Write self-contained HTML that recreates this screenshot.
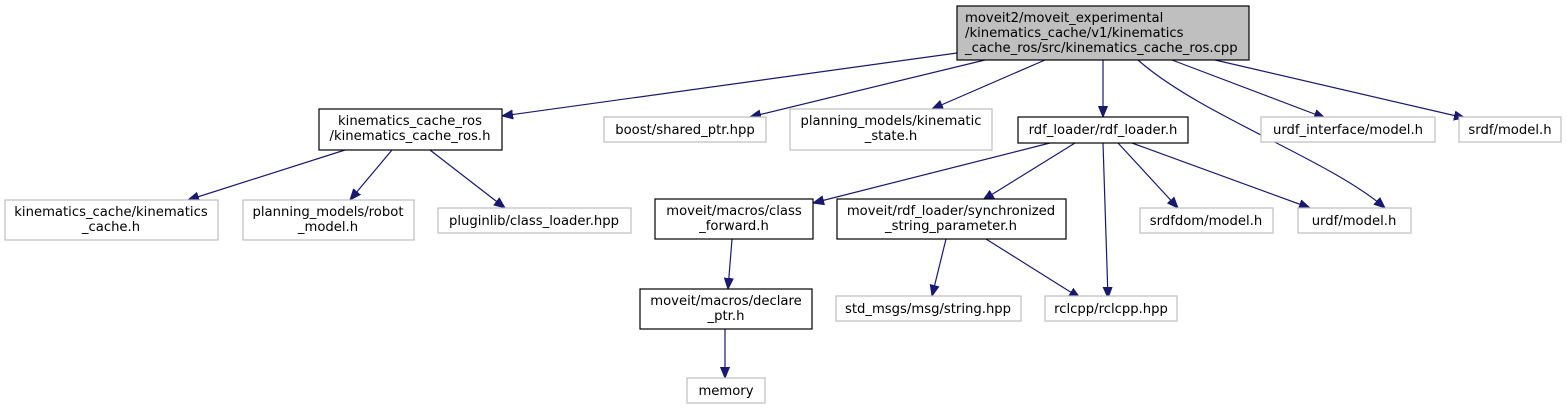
<!DOCTYPE html>
<html><head><meta charset="utf-8"><style>
html,body{margin:0;padding:0;background:#fff;}
svg{display:block;}
text{font-family:"DejaVu Sans","Liberation Sans",sans-serif;font-size:13.2px;fill:#000;text-anchor:middle;}
.b{fill:#fff;stroke:#000;stroke-width:1.2;}
.g{fill:#fff;stroke:#bfbfbf;stroke-width:1.2;}
.e{stroke:#191970;stroke-width:1.2;fill:none;marker-end:url(#a);}
</style></head><body>
<svg width="1567" height="409" viewBox="0 0 1567 409" xmlns="http://www.w3.org/2000/svg">
<defs><marker id="a" markerUnits="userSpaceOnUse" markerWidth="12" markerHeight="10" refX="11" refY="5" orient="auto"><path d="M0,0.5 L11,5 L0,9.5 z" fill="#191970" stroke="#191970"/></marker></defs>
<path class="e" d="M957,53 L502,116"/>
<path class="e" d="M985,60 L750,117"/>
<path class="e" d="M1045,60 L932,109"/>
<path class="e" d="M1103,60 L1103,117"/>
<path class="e" d="M1138,60 C1200,115 1330,160 1385,208"/>
<path class="e" d="M1172,60 L1325,118"/>
<path class="e" d="M1215,60 L1465,118"/>
<path class="e" d="M345,150 L188,200"/>
<path class="e" d="M392,150 L350,200"/>
<path class="e" d="M430,150 L505,208"/>
<path class="e" d="M1050,143 L813,203"/>
<path class="e" d="M1075,143 L983,200"/>
<path class="e" d="M1103,143 L1108,298"/>
<path class="e" d="M1118,143 L1178,208"/>
<path class="e" d="M1132,143 L1310,208"/>
<path class="e" d="M732,239 L728,289"/>
<path class="e" d="M725,328 L725,378"/>
<path class="e" d="M946,239 L932,296"/>
<path class="e" d="M986,239 L1080,298"/>

<rect x="957" y="6" width="292" height="54" fill="#bfbfbf" stroke="#000" stroke-width="1.2"/>
<text x="965" y="22" style="text-anchor:start">moveit2/moveit_experimental</text>
<text x="965" y="37" style="text-anchor:start">/kinematics_cache/v1/kinematics</text>
<text x="965" y="52" style="text-anchor:start">_cache_ros/src/kinematics_cache_ros.cpp</text>

<rect class="b" x="319" y="109" width="183" height="41"/>
<text x="410" y="125">kinematics_cache_ros</text><text x="410" y="140">/kinematics_cache_ros.h</text>

<rect class="g" x="604" y="117" width="162" height="25"/><text x="685" y="134">boost/shared_ptr.hpp</text>

<rect class="g" x="790" y="109" width="202" height="41"/>
<text x="891" y="125">planning_models/kinematic</text><text x="891" y="140">_state.h</text>

<rect class="b" x="1018" y="117" width="170" height="26"/><text x="1103" y="134">rdf_loader/rdf_loader.h</text>

<rect class="g" x="1261" y="117" width="174" height="25"/><text x="1348" y="134">urdf_interface/model.h</text>
<rect class="g" x="1459" y="117" width="102" height="25"/><text x="1510" y="134">srdf/model.h</text>

<rect class="g" x="5" y="200" width="213" height="40"/>
<text x="111" y="216">kinematics_cache/kinematics</text><text x="111" y="231">_cache.h</text>

<rect class="g" x="243" y="200" width="171" height="40"/>
<text x="328" y="216">planning_models/robot</text><text x="328" y="231">_model.h</text>

<rect class="g" x="438" y="208" width="193" height="25"/><text x="534" y="225">pluginlib/class_loader.hpp</text>

<rect class="b" x="655" y="199" width="158" height="40"/>
<text x="734" y="215">moveit/macros/class</text><text x="734" y="230">_forward.h</text>

<rect class="b" x="837" y="199" width="229" height="40"/>
<text x="951" y="215">moveit/rdf_loader/synchronized</text><text x="951" y="230">_string_parameter.h</text>

<rect class="g" x="1140" y="208" width="133" height="25"/><text x="1206" y="225">srdfdom/model.h</text>
<rect class="g" x="1298" y="208" width="113" height="25"/><text x="1354" y="225">urdf/model.h</text>

<rect class="b" x="640" y="289" width="172" height="40"/>
<text x="726" y="305">moveit/macros/declare</text><text x="726" y="320">_ptr.h</text>

<rect class="g" x="836" y="296" width="185" height="25"/><text x="928" y="313">std_msgs/msg/string.hpp</text>
<rect class="g" x="1045" y="296" width="132" height="25"/><text x="1111" y="313">rclcpp/rclcpp.hpp</text>

<rect class="g" x="687" y="378" width="78" height="25"/><text x="726" y="395">memory</text>
</svg>
</body></html>
